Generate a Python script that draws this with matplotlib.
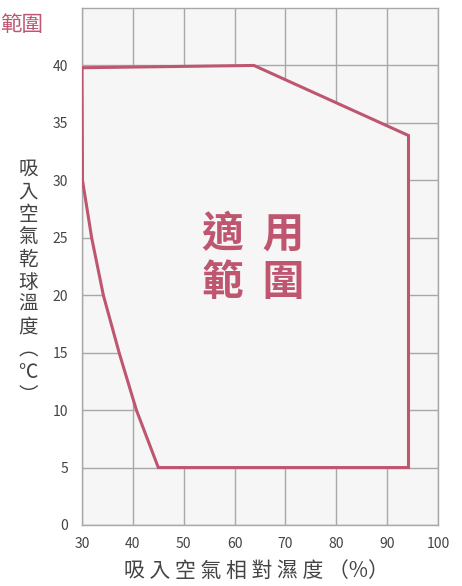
import numpy as np
import matplotlib.pyplot as plt

plt.rcParams['font.family'] = ['Noto Sans CJK TC', 'DejaVu Sans']

# Datos del área de aplicación (humedad %, temperatura °C)
rh_edge = [30.0, 63.8, 94.2, 94.2, 45.0, 40.7, 37.3, 34.2, 31.9, 30.1, 30.0]
temp_edge = [39.8, 40.0, 33.9, 5.0, 5.0, 10.0, 15.0, 20.0, 25.0, 30.0, 39.8]

x_ticks = [30, 40, 50, 60, 70, 80, 90, 100]
y_ticks = [0, 5, 10, 15, 20, 25, 30, 35, 40]

RED = '#bf5670'
GRID = '#a8a8a8'
TXT = '#444444'

fig = plt.figure(figsize=(4.62, 5.86), dpi=100)
ax = fig.add_axes([82 / 462, 61 / 586, 356 / 462, 517 / 586])
ax.set_facecolor('#f6f6f6')

ax.set_xlim(30, 100)
ax.set_ylim(0, 45)
ax.set_xticks(x_ticks)
ax.set_yticks(y_ticks)
ax.grid(True, color=GRID, linewidth=1.0)
ax.set_axisbelow(True)
ax.tick_params(length=0, labelsize=10, colors=TXT)
ax.tick_params(axis='x', pad=9)
ax.tick_params(axis='y', pad=10)
for s in ax.spines.values():
    s.set_color(GRID)
    s.set_linewidth(1.0)

# Polígono de aplicación
ax.fill(rh_edge, temp_edge, color='#f6f6f6', zorder=2)
ax.plot(rh_edge, temp_edge, color=RED, linewidth=2.2, zorder=3,
        solid_joinstyle='miter')

# Texto central
ax.text(63.6, 23.2, '適  用\n範  圍', color=RED, fontsize=30, fontweight='bold',
        ha='center', va='center', linespacing=1.2, zorder=4)

# Etiquetas de ejes
fig.text(256 / 462, 1 - 571 / 586, '吸 入 空 氣 相 對 濕 度 （%）', color=TXT,
         fontsize=15, ha='center', va='center')
fig.text(28 / 462, 1 - 282 / 586, '吸\n入\n空\n氣\n乾\n球\n溫\n度\n︵\n℃\n︶',
         color=TXT, fontsize=14, ha='center', va='center', linespacing=1.1)

# Título arriba a la izquierda
fig.text(0, 1 - 25 / 586, '範圍', color=RED, fontsize=15.5,
         ha='left', va='center')

fig.savefig('out.png', dpi=100)
